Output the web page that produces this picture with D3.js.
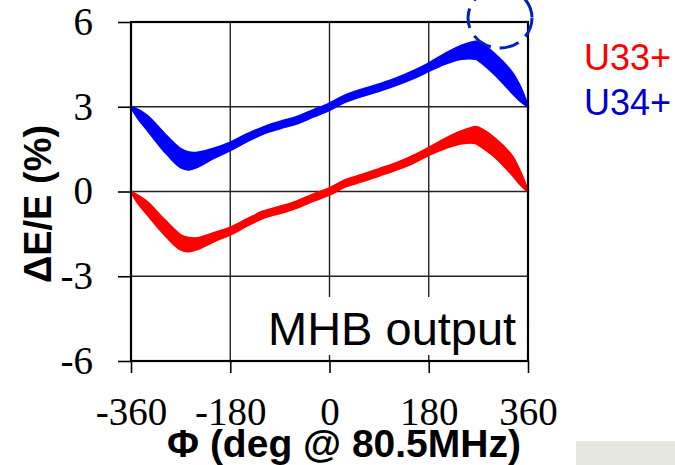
<!DOCTYPE html>
<html>
<head>
<meta charset="utf-8">
<script src="https://cdn.jsdelivr.net/npm/d3@7"></script>
<style>
  html, body { margin: 0; padding: 0; background: #fff; }
  svg { display: block; }
</style>
</head>
<body>
<svg id="chart" width="675" height="465"></svg>
<script>
// Synchrotron phase (deg) at which the energy deviation was sampled
const phase = [-360, -345, -330, -300, -270, -255, -240, -210, -180, -150, -120, -90, -60, -30,
               0, 30, 60, 90, 120, 150, 180, 210, 240, 265, 270, 300, 330, 345, 360];

// U33+ : centre of the energy-deviation band and its half-width (%)
const u33Mid    = [0, -0.32, -0.6, -1.25, -1.8, -1.88, -1.85, -1.62, -1.4, -1.1, -0.82, -0.65, -0.47, -0.22,
                   0, 0.3, 0.48, 0.68, 0.88, 1.12, 1.42, 1.7, 1.92, 2.0, 1.96, 1.55, 0.95, 0.5, 0];
const u33Spread = [0, 0.14, 0.21, 0.25, 0.25, 0.23, 0.19, 0.14, 0.12, 0.11, 0.11, 0.11, 0.11, 0.11,
                   0.11, 0.11, 0.11, 0.11, 0.11, 0.12, 0.12, 0.16, 0.21, 0.28, 0.3, 0.32, 0.32, 0.22, 0];

// U34+ : centre of the energy-deviation band and its half-width (%)
const u34Mid    = [3, 2.7, 2.42, 1.75, 1.18, 1.08, 1.12, 1.35, 1.6, 1.9, 2.16, 2.35, 2.52, 2.76,
                   3, 3.3, 3.5, 3.68, 3.88, 4.12, 4.4, 4.7, 4.93, 5.0, 4.97, 4.5, 3.88, 3.48, 3];
const u34Spread = [0, 0.16, 0.24, 0.3, 0.32, 0.3, 0.25, 0.16, 0.13, 0.12, 0.11, 0.11, 0.11, 0.11,
                   0.11, 0.11, 0.11, 0.11, 0.11, 0.12, 0.13, 0.17, 0.23, 0.3, 0.32, 0.35, 0.35, 0.25, 0];

const xTicks = [-360, -180, 0, 180, 360];
const yTicks = [-6, -3, 0, 3, 6];
const xGrid = [-180, 0, 180];
const yGrid = [-3, 0, 3];

const seriesNames = ["U33+", "U34+"];
const seriesColors = ["#ff0000", "#0000ff"];
const legendColors = ["#ff0000", "#0000cc"];

const svg = d3.select("#chart");
const plotL = 131, plotR = 528, plotT = 22, plotB = 361;

const x = d3.scaleLinear().domain([-360, 360]).range([plotL, plotR]);
const y = d3.scaleLinear().domain([-6, 6]).range([plotB, plotT]);

// grid
const grid = svg.append("g").attr("stroke", "#222").attr("stroke-width", 1.4);
grid.selectAll("line.v").data(xGrid).enter().append("line")
  .attr("x1", d => x(d)).attr("x2", d => x(d)).attr("y1", plotT).attr("y2", plotB);
grid.selectAll("line.h").data(yGrid).enter().append("line")
  .attr("x1", plotL).attr("x2", plotR).attr("y1", d => y(d)).attr("y2", d => y(d));

// bands
const bands = [
  { mid: u33Mid, spread: u33Spread, color: seriesColors[0] },
  { mid: u34Mid, spread: u34Spread, color: seriesColors[1] }
];
bands.forEach(b => {
  const rows = phase.map((p, i) => ({ p, lo: b.mid[i] - b.spread[i], hi: b.mid[i] + b.spread[i] }));
  const area = d3.area()
    .x(d => x(d.p)).y0(d => y(d.lo)).y1(d => y(d.hi))
    .curve(d3.curveCatmullRom.alpha(0.5));
  svg.append("path").datum(rows)
    .attr("d", area)
    .attr("fill", b.color)
    .attr("stroke", b.color)
    .attr("stroke-width", 2.6)
    .attr("stroke-linejoin", "round");
});

// label box over the lower-right grid
svg.append("rect").attr("x", 262).attr("y", 297).attr("width", plotR - 1 - 262).attr("height", 58)
  .attr("fill", "#fff");
svg.append("text").attr("x", 268).attr("y", 345)
  .attr("font-family", "'Liberation Sans', Arial, sans-serif").attr("font-size", 47)
  .attr("fill", "#000").text("MHB output");

// axes
const yAxis = svg.append("g").attr("transform", `translate(${plotL},0)`)
  .call(d3.axisLeft(y).tickValues(yTicks).tickSize(13).tickSizeOuter(0).tickPadding(25)
    .tickFormat(d => String(d)));
const xAxis = svg.append("g").attr("transform", `translate(0,${plotB})`)
  .call(d3.axisBottom(x).tickValues(xTicks).tickSize(12).tickSizeOuter(0).tickPadding(24)
    .tickFormat(d => String(d)));
[xAxis, yAxis].forEach(g => {
  g.attr("font-family", null).attr("font-size", null);
  g.select(".domain").remove();
  g.selectAll(".tick line").attr("stroke", "#000").attr("stroke-width", 1.6);
  g.selectAll(".tick text").style("font-family", "'Liberation Serif', 'Times New Roman', serif")
    .style("font-size", "39px").attr("fill", "#000");
});

// frame
svg.append("rect").attr("x", plotL).attr("y", plotT).attr("width", plotR - plotL).attr("height", plotB - plotT)
  .attr("fill", "none").attr("stroke", "#000").attr("stroke-width", 2.2);

// axis titles
svg.append("text")
  .attr("transform", `translate(51,204) rotate(-90)`)
  .attr("text-anchor", "middle")
  .attr("font-family", "'Liberation Sans', Arial, sans-serif").attr("font-weight", "bold")
  .attr("font-size", 38).attr("fill", "#000")
  .text("ΔE/E (%)");
svg.append("text")
  .attr("x", 344).attr("y", 457).attr("text-anchor", "middle")
  .attr("font-family", "'Liberation Sans', Arial, sans-serif").attr("font-weight", "bold")
  .attr("font-size", 39).attr("fill", "#000")
  .text("Φ (deg @ 80.5MHz)");

// legend
seriesNames.forEach((name, i) => {
  svg.append("text").attr("x", 584).attr("y", 70 + i * 45)
    .attr("font-family", "'Liberation Sans', Arial, sans-serif").attr("font-size", 36)
    .attr("fill", legendColors[i]).text(name);
});

// dashed highlight around the U34+ peak
svg.append("ellipse").attr("cx", 500).attr("cy", 18).attr("rx", 32).attr("ry", 30)
  .attr("fill", "none").attr("stroke", "#0022bb").attr("stroke-width", 3)
  .attr("stroke-dasharray", "20,9");

// grey panel at lower right
svg.append("rect").attr("x", 576).attr("y", 441).attr("width", 99).attr("height", 24)
  .attr("fill", "#e7e7e1");
</script>
</body>
</html>
